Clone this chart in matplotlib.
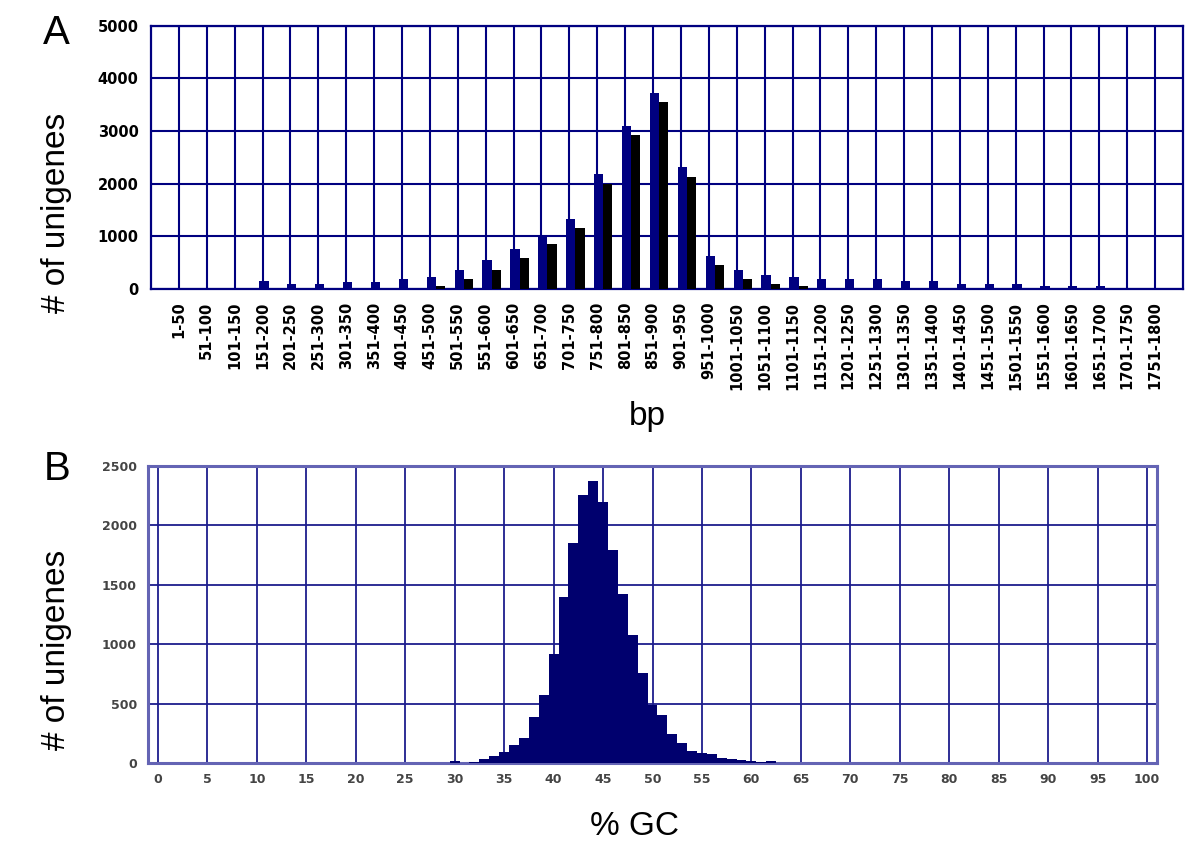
import matplotlib
matplotlib.use('Agg')
import matplotlib.pyplot as plt

# ---------------- data ----------------
bp_bins = ['1-50', '51-100', '101-150', '151-200', '201-250', '251-300',
           '301-350', '351-400', '401-450', '451-500', '501-550', '551-600',
           '601-650', '651-700', '701-750', '751-800', '801-850', '851-900',
           '901-950', '951-1000', '1001-1050', '1051-1100', '1101-1150',
           '1151-1200', '1201-1250', '1251-1300', '1301-1350', '1351-1400',
           '1401-1450', '1451-1500', '1501-1550', '1551-1600', '1601-1650',
           '1651-1700', '1701-1750', '1751-1800']
unigenes_navy = [0, 0, 0, 150, 100, 100, 140, 140, 190, 230, 360, 545,
                 760, 1000, 1335, 2175, 3100, 3730, 2310, 625, 360, 270,
                 230, 190, 190, 190, 145, 145, 100, 100, 100, 55, 55, 55, 0, 0]
unigenes_black = [0, 0, 0, 0, 0, 0, 0, 0, 0, 55, 195, 365,
                  595, 860, 1165, 2000, 2930, 3550, 2135, 455, 195, 100,
                  55, 0, 0, 0, 0, 0, 0, 0, 0, 0, 0, 0, 0, 0]
a_yticks = [0, 1000, 2000, 3000, 4000, 5000]

gc_percent = [30, 31, 32, 33, 34, 35, 36, 37, 38, 39, 40, 41, 42, 43, 44, 45,
              46, 47, 48, 49, 50, 51, 52, 53, 54, 55, 56, 57, 58, 59, 60, 61, 62]
gc_counts = [18, 0, 10, 37, 60, 95, 155, 210, 390, 575, 920, 1395, 1855, 2260,
             2375, 2195, 1795, 1425, 1075, 755, 485, 405, 245, 170, 105, 80,
             75, 45, 35, 25, 20, 5, 20]
b_xticks = list(range(0, 101, 5))
b_yticks = [0, 500, 1000, 1500, 2000, 2500]

# ---------------- figure ----------------
W, H = 1200, 858
fig = plt.figure(figsize=(W / 100, H / 100), dpi=100)
fig.patch.set_facecolor('white')

def fx(px):
    return px / W

def fy(py):
    return 1 - py / H

NAVY = '#000080'
tick_font = dict(family='DejaVu Sans', weight='bold')
label_font = 'Liberation Sans'

# ---------- Panel A ----------
axA = fig.add_axes([fx(151), fy(289), fx(1183) - fx(151), fy(25.7) - fy(289)])
xs = list(range(len(bp_bins)))
axA.bar([x + 0.05 for x in xs], unigenes_navy, width=0.33, color=NAVY, zorder=3)
axA.bar([x + 0.38 for x in xs], unigenes_black, width=0.33, color='black', zorder=3)
axA.set_xlim(-1, len(bp_bins))
axA.set_ylim(0, 5000)
axA.set_xticks(xs)
axA.set_xticklabels(bp_bins, rotation=90, fontsize=10.5, **tick_font)
axA.set_yticks(a_yticks)
axA.set_yticklabels([str(v) for v in a_yticks], fontsize=10.5, **tick_font)
axA.tick_params(axis='both', length=0)
axA.tick_params(axis='x', pad=9)
axA.tick_params(axis='y', pad=9)
axA.grid(True, color=NAVY, linewidth=1.5, zorder=1)
axA.set_axisbelow(True)
for s in axA.spines.values():
    s.set_color(NAVY)
    s.set_linewidth(1.6)

# ---------- Panel B ----------
axB = fig.add_axes([fx(148), fy(763), fx(1157) - fx(148), fy(466) - fy(763)])
axB.bar(gc_percent, gc_counts, width=1.0, color='#00006e', linewidth=0, zorder=3)
axB.set_xlim(-1, 101)
axB.set_ylim(0, 2500)
axB.set_xticks(b_xticks)
axB.set_xticklabels([str(v) for v in b_xticks], fontsize=9, color='#444444', **tick_font)
axB.set_yticks(b_yticks)
axB.set_yticklabels([str(v) for v in b_yticks], fontsize=9, color='#444444', **tick_font)
axB.tick_params(axis='both', length=0)
axB.tick_params(axis='x', pad=7)
axB.tick_params(axis='y', pad=8)
axB.grid(True, color='#1c1c8c', linewidth=1.3, zorder=1)
axB.set_axisbelow(True)
for s in axB.spines.values():
    s.set_color('#6464b4')
    s.set_linewidth(2.2)

# ---------- labels ----------
fig.text(fx(56), fy(33), 'A', fontsize=29, family=label_font, ha='center', va='center')
fig.text(fx(57), fy(469), 'B', fontsize=29, family=label_font, ha='center', va='center')
fig.text(fx(57), fy(213), '# of unigenes', fontsize=24, family=label_font,
         rotation=90, ha='center', va='center')
fig.text(fx(57), fy(650), '# of unigenes', fontsize=24, family=label_font,
         rotation=90, ha='center', va='center')
fig.text(fx(647), fy(425), 'bp', fontsize=24, family=label_font, ha='center', va='baseline')
fig.text(fx(634), fy(835), '% GC', fontsize=24, family=label_font, ha='center', va='baseline')

fig.savefig('out.png', dpi=100, facecolor='white')
